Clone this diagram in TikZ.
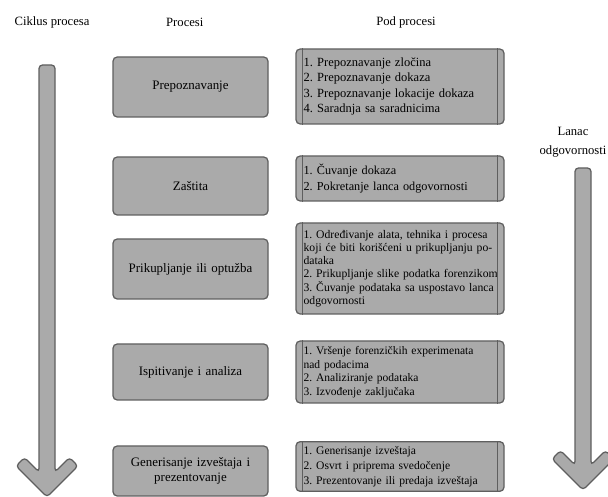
\documentclass[tikz,border=0pt]{standalone}
\usepackage{fontspec}
\setmainfont{Liberation Serif}
\usetikzlibrary{positioning}
\definecolor{boxfill}{RGB}{170,170,170}
\definecolor{boxline}{RGB}{95,95,95}
\frenchspacing

\tikzset{
  procbox/.style={draw=boxline, fill=boxfill, line width=0.9pt, rounded corners=3pt,
                  minimum width=3.875cm, text width=3.6cm, align=center,
                  font=\fontsize{9.2}{11}\selectfont},
  subbox/.style={draw=boxline, fill=boxfill, line width=0.9pt, rounded corners=3pt,
                 text width=4.82cm, inner xsep=0.19cm, align=left},
  header/.style={font=\fontsize{9}{11}\selectfont},
  cyclearrow/.style={draw=boxline, fill=boxfill, line width=0.9pt, rounded corners=2.5pt}
}

\begin{document}
\begin{tikzpicture}
  \clip (0,0) rectangle (15.2,-12.425);
  % column headers
  \node[header] (hcycle) at (1.30,-0.55) {Ciklus procesa};
  \node[header] (hproc)  at (4.62,-0.55) {Procesi};
  \node[header] (hsub)   at (10.15,-0.55) {Pod procesi};
  \node[header, align=center, font=\fontsize{9}{13.5}\selectfont] (hchain) at (14.325,-3.55)
    {Lanac\\odgovornosti};
  % big arrows
  \draw[cyclearrow] (0.975,-1.625) -- (0.975,-11.8) -- (0.6125,-11.4375) -- (0.4,-11.65)
    -- (1.175,-12.425) -- (1.95,-11.65) -- (1.7375,-11.4375) -- (1.375,-11.8)
    -- (1.375,-1.625) -- cycle;
  \draw[cyclearrow] (14.375,-4.2) -- (14.375,-11.625) -- (14.0125,-11.2625) -- (13.8,-11.475)
    -- (14.575,-12.25) -- (15.35,-11.475) -- (15.1375,-11.2625) -- (14.775,-11.625)
    -- (14.775,-4.2) -- cycle;
  % processes
  \node[procbox, minimum height=1.5cm]  (p1) at (4.7625,-2.175) {Prepoznavanje};
  \node[procbox, minimum height=1.45cm] (p2) at (4.7625,-4.65) {Zaštita};
  \node[procbox, minimum height=1.5cm]  (p3) at (4.7625,-6.725) {Prikupljanje ili optužba};
  \node[procbox, minimum height=1.4cm]  (p4) at (4.7625,-9.3) {Ispitivanje i analiza};
  \node[procbox, minimum height=1.25cm] (p5) at (4.7625,-11.775)
    {Generisanje izveštaja i\\prezentovanje};
  % sub processes
  \node[subbox, minimum height=1.875cm, font=\fontsize{8.9}{11}\selectfont] (s1) at (10.0,-2.1625)
    {1. Prepoznavanje zločina\\2. Prepoznavanje dokaza\\3. Prepoznavanje lokacije dokaza\\4. Saradnja sa saradnicima};
  \node[subbox, minimum height=1.125cm, font=\fontsize{8.7}{11.2}\selectfont] (s2) at (10.0,-4.4625)
    {1. Čuvanje dokaza\\2. Pokretanje lanca odgovornosti};
  \node[subbox, minimum height=2.275cm, font=\fontsize{8.3}{9.45}\selectfont] (s3) at (10.0,-6.7125)
    {\mbox{1. Određivanje alata, tehnika i procesa}\\\mbox{koji će biti korišćeni u prikupljanju po-}\\dataka\\\mbox{2. Prikupljanje slike podatka forenzikom}\\\mbox{3. Čuvanje podataka sa uspostavo lanca}\\odgovornosti};
  \node[subbox, minimum height=1.55cm, font=\fontsize{8.2}{9.7}\selectfont] (s4) at (10.0,-9.3)
    {1. Vršenje forenzičkih experimenata\\nad podacima\\2. Analiziranje podataka\\3. Izvođenje zaključaka};
  \node[subbox, minimum height=1.125cm, font=\fontsize{8.25}{10.6}\selectfont] (s5) at (10.0,-11.6625)
    {1. Generisanje izveštaja\\2. Osvrt i priprema svedočenje\\\mbox{3. Prezentovanje ili predaja izveštaja}};
  % inner bars of the sub process boxes
  \draw[boxline, line width=0.8pt] ([xshift=0.175cm]s1.north west) -- ([xshift=0.175cm]s1.south west)
    ([xshift=-0.175cm]s1.north east) -- ([xshift=-0.175cm]s1.south east);
  \draw[boxline, line width=0.8pt] ([xshift=0.175cm]s2.north west) -- ([xshift=0.175cm]s2.south west)
    ([xshift=-0.175cm]s2.north east) -- ([xshift=-0.175cm]s2.south east);
  \draw[boxline, line width=0.8pt] ([xshift=0.175cm]s3.north west) -- ([xshift=0.175cm]s3.south west)
    ([xshift=-0.175cm]s3.north east) -- ([xshift=-0.175cm]s3.south east);
  \draw[boxline, line width=0.8pt] ([xshift=0.175cm]s4.north west) -- ([xshift=0.175cm]s4.south west)
    ([xshift=-0.175cm]s4.north east) -- ([xshift=-0.175cm]s4.south east);
  \draw[boxline, line width=0.8pt] ([xshift=0.175cm]s5.north west) -- ([xshift=0.175cm]s5.south west)
    ([xshift=-0.175cm]s5.north east) -- ([xshift=-0.175cm]s5.south east);
\end{tikzpicture}
\end{document}
